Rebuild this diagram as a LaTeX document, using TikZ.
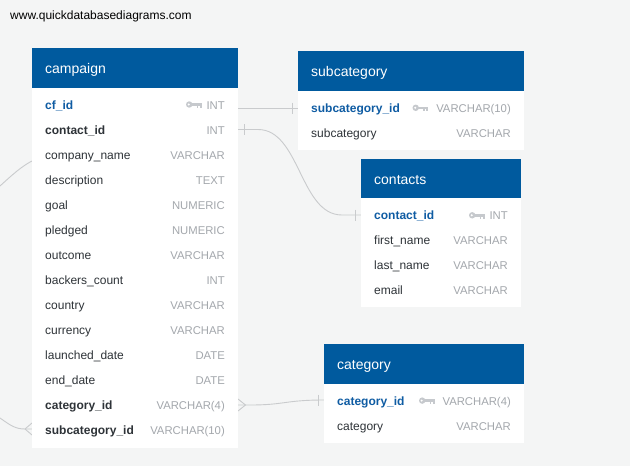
\documentclass[tikz,border=0pt]{standalone}
\usepackage{fontspec}
\setmainfont{Liberation Sans}
\definecolor{bgc}{HTML}{F4F5F5}
\definecolor{hblue}{HTML}{005A9E}
\definecolor{namec}{HTML}{2E3338}
\definecolor{typec}{HTML}{A3A7AC}
\definecolor{pkc}{HTML}{0F5CA3}
\definecolor{keyc}{HTML}{C6C9CD}
\definecolor{connc}{HTML}{C9CBCD}
\begin{document}
\begin{tikzpicture}[x=1pt,y=-1pt,
  hdr/.style={fill=hblue,draw=none,anchor=north west,inner sep=0,outer sep=0},
  body/.style={fill=white,draw=none,anchor=north west,inner sep=0,outer sep=0},
  thead/.style={anchor=base west,inner sep=0,text=white,font=\fontsize{14}{16}\selectfont},
  tname/.style={anchor=base west,inner sep=0,yshift=-1,text=namec,font=\fontsize{12}{14}\selectfont},
  tfk/.style={anchor=base west,inner sep=0,yshift=-1,text=namec,font=\fontsize{12}{14}\selectfont\bfseries},
  tpk/.style={anchor=base west,inner sep=0,yshift=-1,text=pkc,font=\fontsize{12}{14}\selectfont\bfseries},
  ttype/.style={anchor=base east,inner sep=0,yshift=-1,text=typec,font=\fontsize{11.3}{14}\selectfont},
  conn/.style={draw=connc,line width=0.9pt},
  keyicon/.pic={
    \fill[keyc] (3.2,0) circle (3.2);
    \fill[white] (2.7,0) circle (1.1);
    \fill[keyc] (5,-1.3) rectangle (15.5,1.3);
    \fill[keyc] (10.5,1.3) rectangle (12,3.2);
    \fill[keyc] (13.5,1.3) rectangle (15.5,3.2);
  }
]
\fill[bgc] (0,0) rectangle (630,466);
\useasboundingbox (0,0) rectangle (630,466);

\node[anchor=base west,inner sep=0,text=black,font=\fontsize{12}{14}\selectfont] (site) at (10,19.5) {www.quickdatabasediagrams.com};

% ---------- connectors (behind tables) ----------
\coordinate (cp-sub) at (238,108);
\coordinate (sb-sub) at (298,108);
\coordinate (cp-con) at (238,129.5);
\coordinate (ct-con) at (361,215);
\coordinate (cp-cat) at (238,405);
\coordinate (cg-cat) at (324,400);
\coordinate (lt-top) at (0,186);
\coordinate (cp-lt)  at (32,161);
\coordinate (lt-bot) at (0,418);
\coordinate (cp-subl) at (32,429);

\draw[conn] (cp-sub) -- (sb-sub);
\draw[conn] ([shift={(-6,-5.5)}]sb-sub) -- ([shift={(-6,5.5)}]sb-sub);

\draw[conn] (cp-con) -- ++(20,0) .. controls (300,129.5) and (300,215) .. ([xshift=-19]ct-con) -- (ct-con);
\draw[conn] ([shift={(6,-5.5)}]cp-con) -- ([shift={(6,5.5)}]cp-con);
\draw[conn] ([shift={(-6,-5.5)}]ct-con) -- ([shift={(-6,5.5)}]ct-con);

\draw[conn] (cp-cat) -- ++(12,0) .. controls (285,405) and (285,400) .. (cg-cat);
\draw[conn] ([shift={(0,-6)}]cp-cat) -- ([shift={(7.5,0)}]cp-cat) -- ([shift={(0,6)}]cp-cat);
\draw[conn] ([shift={(-6,-5.5)}]cg-cat) -- ([shift={(-6,5.5)}]cg-cat);

\draw[conn] (lt-top) .. controls (12,175) and (22,166) .. (cp-lt);

\draw[conn] (lt-bot) .. controls (10,425) and (15,429) .. ([xshift=-7]cp-subl) -- (cp-subl);
\draw[conn] ([shift={(0,-6)}]cp-subl) -- ([shift={(-7,0)}]cp-subl) -- ([shift={(0,6)}]cp-subl);

% ---------- campaign ----------
\node[hdr,minimum width=206,minimum height=40] (cph) at (32,48) {};
\node[body,minimum width=206,minimum height=360] (cpb) at (32,88) {};
\node[thead] (cpt) at (45,73) {campaign};
\node[tpk]   (cpn0)  at (45,108.5) {cf\_id};
\node[tfk]   (cpn1)  at (45,133.5) {contact\_id};
\node[tname] (cpn2)  at (45,158.5) {company\_name};
\node[tname] (cpn3)  at (45,183.5) {description};
\node[tname] (cpn4)  at (45,208.5) {goal};
\node[tname] (cpn5)  at (45,233.5) {pledged};
\node[tname] (cpn6)  at (45,258.5) {outcome};
\node[tname] (cpn7)  at (45,283.5) {backers\_count};
\node[tname] (cpn8)  at (45,308.5) {country};
\node[tname] (cpn9)  at (45,333.5) {currency};
\node[tname] (cpn10) at (45,358.5) {launched\_date};
\node[tname] (cpn11) at (45,383.5) {end\_date};
\node[tfk]   (cpn12) at (45,408.5) {category\_id};
\node[tfk]   (cpn13) at (45,433.5) {subcategory\_id};
\node[ttype] (cpy0)  at (225,108.5) {INT};
\node[ttype] (cpy1)  at (225,133.5) {INT};
\node[ttype] (cpy2)  at (225,158.5) {VARCHAR};
\node[ttype] (cpy3)  at (225,183.5) {TEXT};
\node[ttype] (cpy4)  at (225,208.5) {NUMERIC};
\node[ttype] (cpy5)  at (225,233.5) {NUMERIC};
\node[ttype] (cpy6)  at (225,258.5) {VARCHAR};
\node[ttype] (cpy7)  at (225,283.5) {INT};
\node[ttype] (cpy8)  at (225,308.5) {VARCHAR};
\node[ttype] (cpy9)  at (225,333.5) {VARCHAR};
\node[ttype] (cpy10) at (225,358.5) {DATE};
\node[ttype] (cpy11) at (225,383.5) {DATE};
\node[ttype] (cpy12) at (225,408.5) {VARCHAR(4)};
\node[ttype] (cpy13) at (225,433.5) {VARCHAR(10)};
\pic at (186,104.5) {keyicon};

% ---------- subcategory ----------
\node[hdr,minimum width=226,minimum height=40] (sbh) at (298,51) {};
\node[body,minimum width=226,minimum height=59] (sbb) at (298,91) {};
\node[thead] (sbt) at (311,76) {subcategory};
\node[tpk]   (sbn0) at (311,111.5) {subcategory\_id};
\node[tname] (sbn1) at (311,136.5) {subcategory};
\node[ttype] (sby0) at (511,111.5) {VARCHAR(10)};
\node[ttype] (sby1) at (511,136.5) {VARCHAR};
\pic at (412.5,107.8) {keyicon};

% ---------- contacts ----------
\node[hdr,minimum width=160,minimum height=39] (cth) at (361,159) {};
\node[body,minimum width=160,minimum height=109] (ctb) at (361,198) {};
\node[thead] (ctt) at (374,184) {contacts};
\node[tpk]   (ctn0) at (374,218.2) {contact\_id};
\node[tname] (ctn1) at (374,243.2) {first\_name};
\node[tname] (ctn2) at (374,268.2) {last\_name};
\node[tname] (ctn3) at (374,293.2) {email};
\node[ttype] (cty0) at (508,218.2) {INT};
\node[ttype] (cty1) at (508,243.2) {VARCHAR};
\node[ttype] (cty2) at (508,268.2) {VARCHAR};
\node[ttype] (cty3) at (508,293.2) {VARCHAR};
\pic at (469,215.3) {keyicon};

% ---------- category ----------
\node[hdr,minimum width=200,minimum height=40] (cgh) at (324,344) {};
\node[body,minimum width=200,minimum height=59] (cgb) at (324,384) {};
\node[thead] (cgt) at (337,369) {category};
\node[tpk]   (cgn0) at (337,404.3) {category\_id};
\node[tname] (cgn1) at (337,429.3) {category};
\node[ttype] (cgy0) at (511,404.3) {VARCHAR(4)};
\node[ttype] (cgy1) at (511,429.3) {VARCHAR};
\pic at (419,400.6) {keyicon};
\end{tikzpicture}
\end{document}
